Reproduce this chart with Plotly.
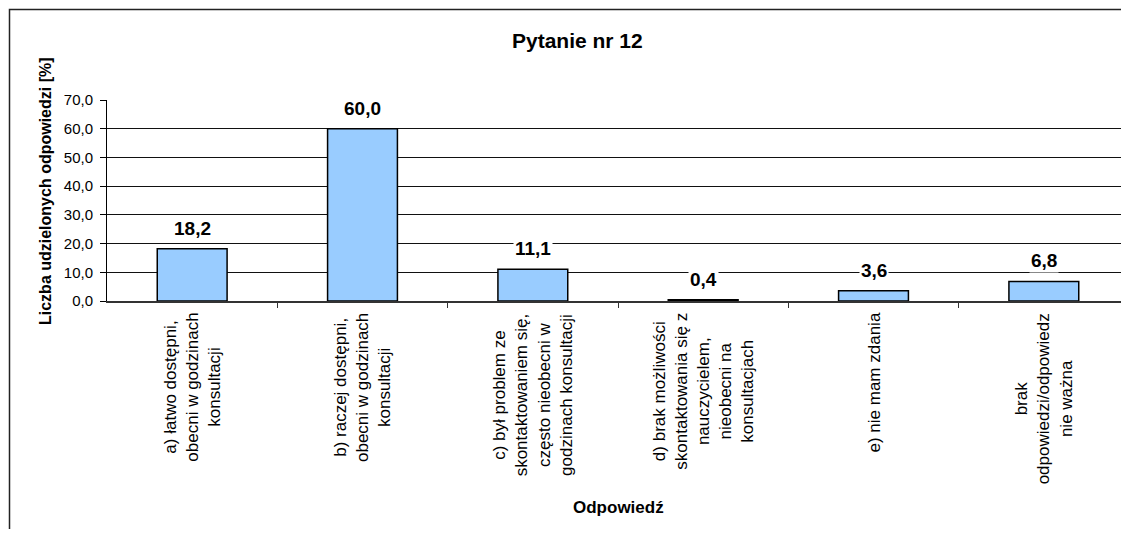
import plotly.graph_objects as go

categories = [
    "a) łatwo dostępni,<br>obecni w godzinach<br>konsultacji",
    "b) raczej dostępni,<br>obecni w godzinach<br>konsultacji",
    "c) był problem ze<br>skontaktowaniem się,<br>często nieobecni w<br>godzinach konsultacji",
    "d) brak możliwości<br>skontaktowania się z<br>nauczycielem,<br>nieobecni na<br>konsultacjach",
    "e) nie mam zdania",
    "brak<br>odpowiedzi/odpowiedz<br>nie ważna",
]
values = [18.2, 60.0, 11.1, 0.4, 3.6, 6.8]
value_labels = ["18,2", "60,0", "11,1", "0,4", "3,6", "6,8"]
y_ticks = [0, 10, 20, 30, 40, 50, 60, 70]
y_tick_labels = ["0,0", "10,0", "20,0", "30,0", "40,0", "50,0", "60,0", "70,0"]

title_text = "Pytanie nr 12"
x_title = "Odpowiedź"
y_title = "Liczba udzielonych odpowiedzi [%]"

# page body has an 8px margin on every side; keep the figure inside the window
OFF = 8
WIN_W, WIN_H = 1129, 537
W, H = WIN_W - 2 * OFF, WIN_H - 2 * OFF
# plot area in window pixels: x 107..(W+OFF), y 100..301
L, R, T, B = 107 - OFF, 0, 100 - OFF, (H + OFF) - 301
PW, PH = W - L - R, H - T - B
BAND = (1129 - 107) / len(categories)   # category band width in the reference

def px(xw):
    return (xw - OFF - L) / PW

def py(yw):
    return (H - B - (yw - OFF)) / PH

FONT = "Arial, Liberation Sans, sans-serif"
xkeys = list(range(len(categories)))

fig = go.Figure()
fig.add_trace(go.Bar(
    x=xkeys, y=values,
    marker=dict(color="#99CCFF", line=dict(color="#000000", width=1.5)),
    width=0.41,
    hoverinfo="skip",
))

annotations = []
for xi, v, lab in zip(xkeys, values, value_labels):
    annotations.append(dict(
        x=xi, y=v, xref="x", yref="y", text="<b>%s</b>" % lab,
        showarrow=False, yanchor="bottom", yshift=8,
        bgcolor="white", borderpad=1,
        font=dict(family=FONT, size=19, color="black"),
    ))
for xi, cat in zip(xkeys, categories):
    annotations.append(dict(
        x=xi, y=0, xref="x", yref="paper", text=cat,
        showarrow=False, textangle=-90, yanchor="top", yshift=-10,
        align="center",
        font=dict(family=FONT, size=17, color="black"),
    ))
annotations.append(dict(
    x=px(577), y=py(40), xref="paper", yref="paper",
    text="<b>%s</b>" % title_text, showarrow=False,
    xanchor="center", yanchor="middle",
    font=dict(family=FONT, size=21, color="black"),
))
annotations.append(dict(
    x=px(618), y=py(507), xref="paper", yref="paper",
    text="<b>%s</b>" % x_title, showarrow=False,
    xanchor="center", yanchor="middle",
    font=dict(family=FONT, size=17, color="black"),
))
annotations.append(dict(
    x=px(45), y=py(191), xref="paper", yref="paper",
    text="<b>%s</b>" % y_title, showarrow=False, textangle=-90,
    xanchor="center", yanchor="middle",
    font=dict(family=FONT, size=16, color="black"),
))

shapes = [dict(
    type="rect", xref="paper", yref="paper",
    x0=px(9.5), x1=px(WIN_W + 20), y0=py(WIN_H + 20), y1=py(9.5),
    line=dict(color="#222222", width=1.5), fillcolor="rgba(0,0,0,0)",
    layer="below",
)]

fig.update_layout(
    width=W, height=H,
    margin=dict(l=L, r=R, t=T, b=B, pad=0),
    paper_bgcolor="white", plot_bgcolor="white",
    showlegend=False,
    font=dict(family=FONT, size=15, color="black"),
    annotations=annotations,
    shapes=shapes,
)
fig.update_xaxes(
    type="linear", range=[-0.5, -0.5 + PW / BAND],
    tickvals=[i + 0.5 for i in xkeys[:-1]], showticklabels=False,
    ticks="outside", ticklen=5, tickcolor="#333333", tickwidth=1,
    showline=True, linecolor="#333333", linewidth=2,
    showgrid=False, zeroline=False, fixedrange=True,
)
fig.update_yaxes(
    range=[0, 70], tickvals=y_ticks, ticktext=y_tick_labels,
    ticks="outside", ticklen=6, tickcolor="black", tickwidth=1,
    ticklabelstandoff=4,
    showline=True, linecolor="black", linewidth=1,
    showgrid=True, gridcolor="#111111", gridwidth=1,
    zeroline=False, fixedrange=True,
    tickfont=dict(family=FONT, size=15, color="black"),
)

fig.write_html("out.html")
